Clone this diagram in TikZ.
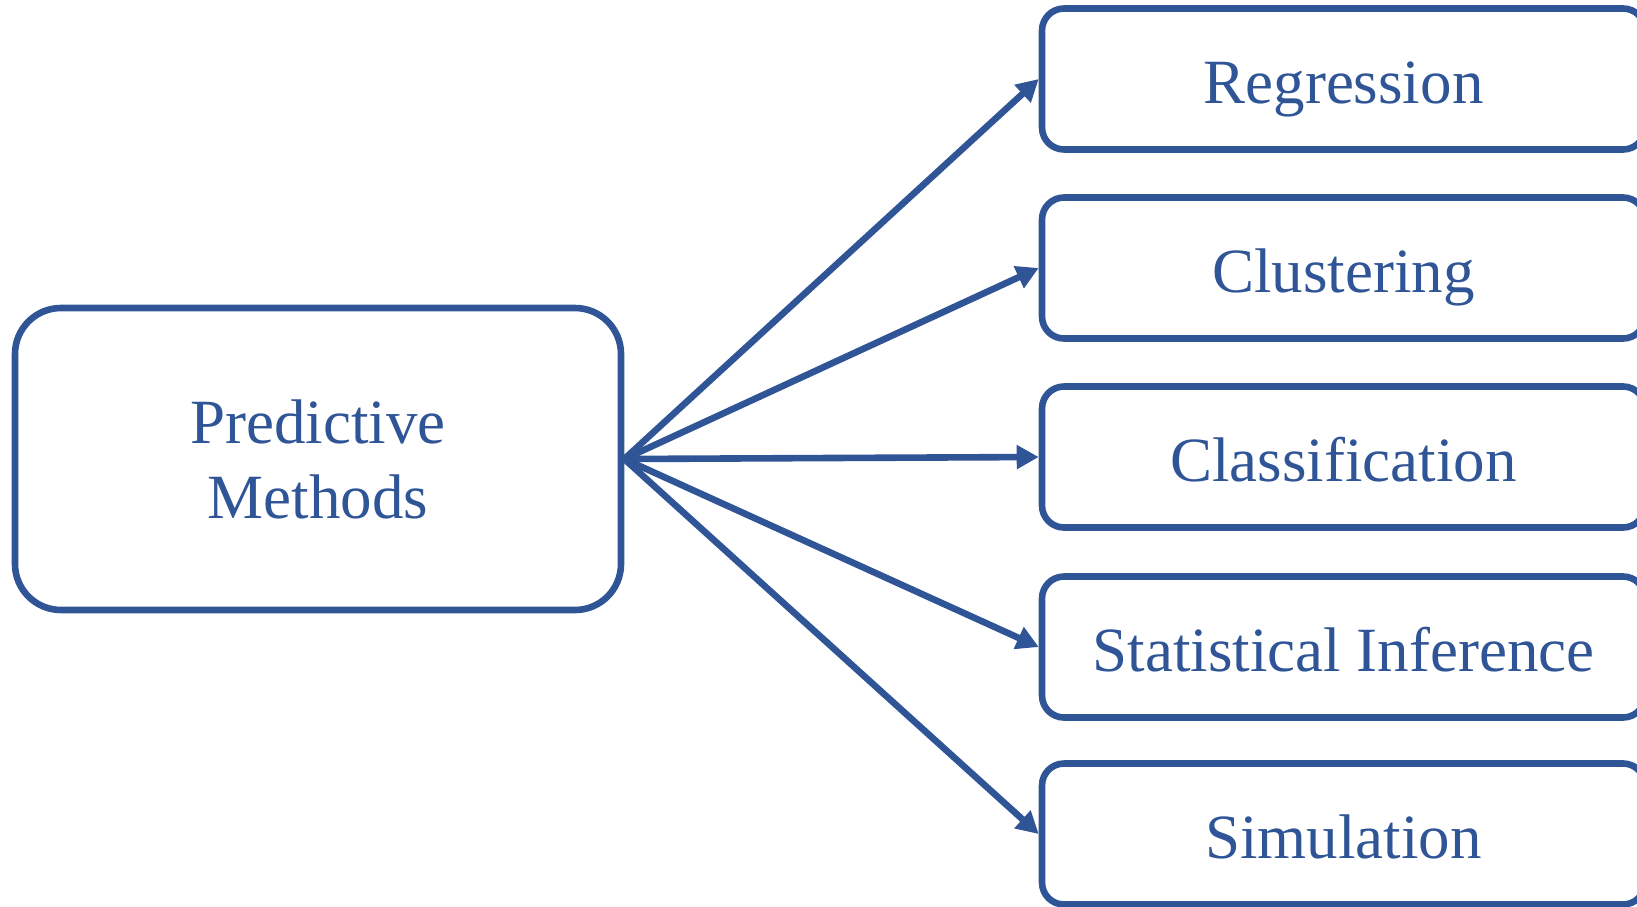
\documentclass[tikz,border=0pt]{standalone}
\usepackage{fontspec}
\setmainfont{Liberation Serif}
\usetikzlibrary{arrows.meta}
\definecolor{ink}{RGB}{47,85,151}
\begin{document}
\begin{tikzpicture}[x=0.5pt,y=-0.5pt,
  label font/.style={font=\fontsize{31.5}{37.5}\selectfont, text=ink},
  mainbox/.style={draw=ink, line width=3.3pt, rounded corners=23pt, label font,
    align=center, minimum width=303pt, minimum height=151pt},
  methodbox/.style={draw=ink, line width=3.3pt, rounded corners=11pt, label font,
    inner sep=0pt, minimum width=301.5pt, minimum height=70.5pt,
    text height=24pt, text depth=0pt},
  link/.style={draw=ink, line width=3.3pt, -{Triangle[length=11pt,width=11.5pt]}}]
\useasboundingbox (0,0) rectangle (1637,906);

% root node
\node[mainbox] (pm) at (318,459) {Predictive\\Methods};

% method boxes, partly cut by the right border
\node[methodbox] (reg) at (1343.5,79)  {Regression};
\node[methodbox] (clu) at (1343.5,268) {Clustering};
\node[methodbox] (cla) at (1343.5,457) {Classification};
\node[methodbox] (sta) at (1343.5,647) {Statistical Inference};
\node[methodbox] (sim) at (1343.5,834) {Simulation};

% connectors fanning out from the root
\foreach \t in {reg,clu,cla,sta,sim}
  \draw[link] (pm.east) -- (\t.west);
\end{tikzpicture}
\end{document}
